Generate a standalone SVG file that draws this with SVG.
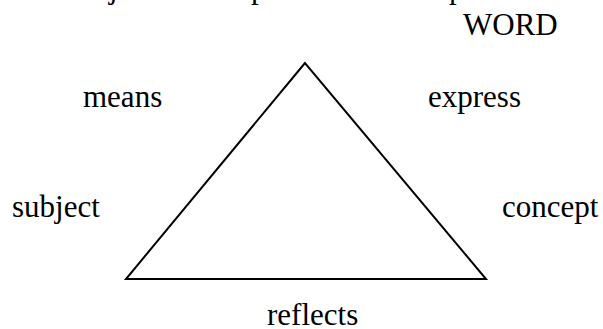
<svg xmlns="http://www.w3.org/2000/svg" width="603" height="329" viewBox="0 0 603 329">
<style>
text { font-family: "Liberation Serif", "Times New Roman", serif; font-size: 31px; fill: #000; }
.edge { fill: none; stroke: #000; stroke-width: 2; }
</style>
<rect width="603" height="329" fill="#fff"/>
<g id="clipped-top">
<text x="109" y="-2">j</text>
<text x="251" y="-2">p</text>
<text x="449" y="-2">p</text>
</g>
<g id="connectors">
<polygon class="edge" points="305,63 126,279 486,279"/>
</g>
<g id="word"><text x="463" y="35">WORD</text></g>
<g id="means"><text x="83" y="107">means</text></g>
<g id="express"><text x="428" y="107">express</text></g>
<g id="subject"><text x="12" y="217">subject</text></g>
<g id="concept"><text x="502" y="217">concept</text></g>
<g id="reflects"><text x="267" y="325">reflects</text></g>
</svg>
